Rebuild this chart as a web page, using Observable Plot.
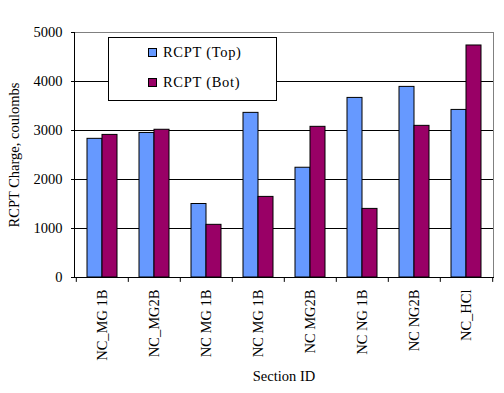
<!DOCTYPE html>
<html>
<head>
<meta charset="utf-8">
<script src="https://cdn.jsdelivr.net/npm/d3@7"></script>
<script src="https://cdn.jsdelivr.net/npm/@observablehq/plot@0.6"></script>
<style>
  html, body { margin: 0; padding: 0; background: #fff; }
  #wrap { position: relative; width: 504px; height: 393px; font-family: "Liberation Serif", "Times New Roman", serif; }
  #legend { position: absolute; left: 108px; top: 37px; width: 169px; height: 64px; box-sizing: border-box;
    border: 1px solid #000; background: #fff; font-size: 14.5px; color: #000; }
  .item { position: absolute; left: 39px; display: flex; align-items: center; letter-spacing: 0.7px; white-space: nowrap; }
  .sw { width: 7px; height: 7px; border: 1px solid #000; margin-right: 6px; box-sizing: content-box; }
</style>
</head>
<body>
<div id="wrap"></div>
<script>
const categories = ["NC_MG 1B", "NC_MG2B", "NC MG 1B", "NC MG 1B ", "NC MG2B", "NC NG 1B", "NC NG2B", "NC_HCl"];
const topValues = [2830, 2950, 1500, 3360, 2240, 3665, 3890, 3420];
const botValues = [2910, 3015, 1075, 1645, 3075, 1400, 3095, 4735];
const yTicks = [0, 1000, 2000, 3000, 4000, 5000];
const seriesNames = ["RCPT (Top)", "RCPT (Bot)"];
const colors = ["#6699FF", "#990066"];
const yTitle = "RCPT Charge, coulombs";
const xTitle = "Section ID";

const rows = categories.map((c, i) => ({cat: c, top: topValues[i], bot: botValues[i]}));
const font = '"Liberation Serif", "Times New Roman", serif';

const plot = Plot.plot({
  width: 504,
  height: 393,
  marginLeft: 74,
  marginRight: 11,
  marginTop: 32,
  marginBottom: 116,
  style: {fontFamily: font, fontSize: "14.5px", color: "#000", background: "#fff"},
  x: {domain: categories, paddingInner: 0.43, paddingOuter: 0.215, label: null},
  y: {domain: [0, 5000], label: null},
  marks: [
    Plot.gridY(yTicks, {stroke: "#000", strokeOpacity: 1}),
    Plot.frame({stroke: "#808080"}),
    Plot.frame({anchor: "left", stroke: "#000"}),
    Plot.frame({anchor: "bottom", stroke: "#000"}),
    Plot.barY(rows, {x: "cat", y: "top", fill: colors[0], stroke: "#000", strokeWidth: 1, insetRight: 15}),
    Plot.barY(rows, {x: "cat", y: "bot", fill: colors[1], stroke: "#000", strokeWidth: 1, insetLeft: 15}),
    Plot.ruleX(categories, {x: d => d, dx: -26.19, y1: 0, y2: -100, stroke: "#000", clip: false}),
    Plot.ruleX(categories.slice(-1), {x: d => d, dx: 26.19, y1: 0, y2: -100, stroke: "#000", clip: false}),
    Plot.axisY({ticks: yTicks, tickSize: 3, tickPadding: 9, tickFormat: d => String(d), fontSize: 14.5,
      label: yTitle, labelAnchor: "center", labelArrow: "none", labelOffset: 66}),
    Plot.axisX({tickSize: 0, tickRotate: -90, tickPadding: 12, fontSize: 14.5, tickFormat: d => d.trim(),
      label: xTitle, labelAnchor: "center", labelArrow: "none", labelOffset: 103})
  ]
});

const wrap = document.getElementById("wrap");
wrap.appendChild(plot);
const legend = document.createElement("div");
legend.id = "legend";
seriesNames.forEach((name, i) => {
  const item = document.createElement("div");
  item.className = "item";
  item.style.top = (i === 0 ? 6 : 36) + "px";
  const sw = document.createElement("span");
  sw.className = "sw";
  sw.style.background = colors[i];
  const t = document.createElement("span");
  t.textContent = name;
  item.appendChild(sw);
  item.appendChild(t);
  legend.appendChild(item);
});
wrap.appendChild(legend);
</script>
</body>
</html>
